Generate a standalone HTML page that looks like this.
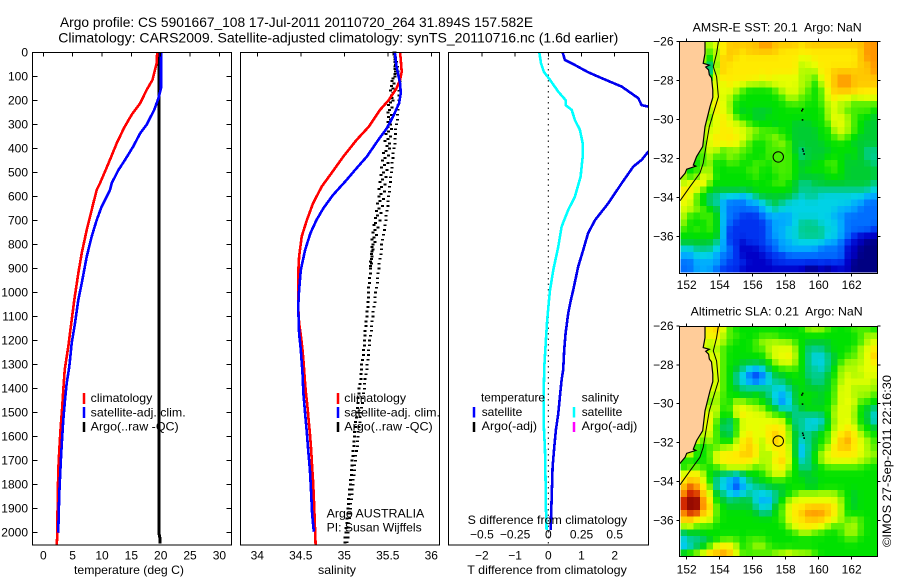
<!DOCTYPE html>
<html>
<head>
<meta charset="utf-8">
<title>Argo profile</title>
<style>
html,body{margin:0;padding:0;background:#fff;}
svg{display:block;font-family:"Liberation Sans",sans-serif;font-size:12px;fill:#000;}
text{fill:#000;}
</style>
</head>
<body>
<svg id="chart" xmlns="http://www.w3.org/2000/svg" width="900" height="580" viewBox="0 0 900 580">
<defs>
<clipPath id="clip-diff"><rect x="448.5" y="52.5" width="200" height="492.5"/></clipPath>
<clipPath id="clip-sst"><rect x="679.5" y="41.5" width="198" height="232"/></clipPath>
<clipPath id="clip-sla"><rect x="679.5" y="326.5" width="198" height="230"/></clipPath>
</defs>
<rect x="0" y="0" width="900" height="580" fill="#fff"/>
<text x="60" y="27" font-size="14" textLength="473" lengthAdjust="spacingAndGlyphs">Argo profile: CS 5901667_108 17-Jul-2011 20110720_264 31.894S 157.582E</text>
<text x="58.3" y="42.3" font-size="14" textLength="560" lengthAdjust="spacingAndGlyphs">Climatology: CARS2009. Satellite-adjusted climatology: synTS_20110716.nc (1.6d earlier)</text>
<g id="marks"></g>
<text x="74" y="574" textLength="110" lengthAdjust="spacingAndGlyphs">temperature (deg C)</text>
<text x="318" y="574" textLength="38" lengthAdjust="spacingAndGlyphs">salinity</text>
<text x="467.3" y="574" textLength="159.5" lengthAdjust="spacingAndGlyphs">T difference from climatology</text>
<text x="467.7" y="524" textLength="159.5" lengthAdjust="spacingAndGlyphs">S difference from climatology</text>

<g>
<line x1="84" y1="393" x2="84" y2="404" stroke="#f00" stroke-width="2.5"/>
<line x1="84" y1="407" x2="84" y2="418" stroke="#00f" stroke-width="2.5"/>
<line x1="84" y1="422" x2="84" y2="432" stroke="#000" stroke-width="2.5"/>
<text x="90.7" y="402" textLength="61.6" lengthAdjust="spacingAndGlyphs">climatology</text>
<text x="90.7" y="416.3" textLength="95" lengthAdjust="spacingAndGlyphs">satellite-adj. clim.</text>
<text x="90.7" y="430.7" textLength="88" lengthAdjust="spacingAndGlyphs">Argo(..raw -QC)</text>
</g>
<g>
<line x1="338" y1="393" x2="338" y2="404" stroke="#f00" stroke-width="2.5"/>
<line x1="338" y1="407" x2="338" y2="418" stroke="#00f" stroke-width="2.5"/>
<line x1="338" y1="422" x2="338" y2="432" stroke="#000" stroke-width="2.5"/>
<text x="344.3" y="402" textLength="61.7" lengthAdjust="spacingAndGlyphs">climatology</text>
<text x="344.3" y="416.3" textLength="95.7" lengthAdjust="spacingAndGlyphs">satellite-adj. clim.</text>
<text x="344.3" y="430.7" textLength="88.4" lengthAdjust="spacingAndGlyphs">Argo(..raw -QC)</text>
</g>
<text x="326.7" y="517.3" textLength="97.6" lengthAdjust="spacingAndGlyphs">Argo AUSTRALIA</text>
<text x="326.7" y="531.3" textLength="95" lengthAdjust="spacingAndGlyphs">PI: Susan Wijffels</text>

<g>
<text x="481" y="401.3" textLength="64" lengthAdjust="spacingAndGlyphs">temperature</text>
<line x1="474" y1="407" x2="474" y2="417.5" stroke="#00f" stroke-width="2.5"/>
<text x="481.7" y="416" textLength="40.6" lengthAdjust="spacingAndGlyphs">satellite</text>
<line x1="474" y1="422" x2="474" y2="432" stroke="#000" stroke-width="2.5"/>
<text x="481.7" y="430" textLength="55.3" lengthAdjust="spacingAndGlyphs">Argo(-adj)</text>
<text x="581.7" y="401.3" textLength="37.3" lengthAdjust="spacingAndGlyphs">salinity</text>
<line x1="574" y1="407" x2="574" y2="417.5" stroke="#0ff" stroke-width="2.5"/>
<text x="581.7" y="416" textLength="40.6" lengthAdjust="spacingAndGlyphs">satellite</text>
<line x1="574" y1="422" x2="574" y2="432" stroke="#f0f" stroke-width="2.5"/>
<text x="581.7" y="430" textLength="55.6" lengthAdjust="spacingAndGlyphs">Argo(-adj)</text>
</g>

<text x="692.7" y="31.7" textLength="169" lengthAdjust="spacingAndGlyphs">AMSR-E SST: 20.1&#160; Argo: NaN</text>
<text x="690.7" y="315.7" textLength="172" lengthAdjust="spacingAndGlyphs">Altimetric SLA: 0.21&#160; Argo: NaN</text>
<text x="891" y="547" transform="rotate(-90 891 547)" textLength="172" lengthAdjust="spacingAndGlyphs">©IMOS 27-Sep-2011 22:16:30</text>
</svg>

<script>
// ---- tick labels ----
const depthTicks = [0,100,200,300,400,500,600,700,800,900,1000,1100,1200,1300,1400,1500,1600,1700,1800,1900,2000];
const tempTicks = [0,5,10,15,20,25,30];
const salTicks = [34,34.5,35,35.5,36];
const tDiffTicks = [-2,-1,0,1,2];
const sDiffTicks = [-0.5,-0.25,0,0.25,0.5];
const lonTicks = [152,154,156,158,160,162];
const latTicks = [-26,-28,-30,-32,-34,-36];

// ---- temperature profiles ----
const climTDepth = [0,46,115,157,212,260,315,379,462,545,573,629,740,837,920,1031,1114,1225,1322,1406,1482,1558,1655,1738,1856,2002,2050];
const climT = [19.4,19.3,18.6,17.6,16.5,15.05,13.75,12.5,11.1,9.66,9.1,8.52,7.39,6.54,5.97,5.28,4.83,4.26,3.65,3.4,3.2,2.96,2.73,2.56,2.45,2.39,2.3];
const satTDepth = [0,150,192,240,302,337,393,449,490,545,573,642,698,767,851,962,1031,1128,1211,1309,1378,1447,1530,1614,1711,1836,1988,2000];
const satT = [20.05,20.05,19.6,18.9,17.6,16.5,15.3,13.9,12.8,11.65,11.36,9.95,9.1,8.24,7.39,6.54,5.97,5.4,4.83,4.43,3.99,3.7,3.41,3.19,2.96,2.73,2.56,2.5];
const argoTDepth = [0,100,200,300,400,500,600,800,1000,1200,1400,1600,1800,2000,2020,2045];
const argoT = [19.7,19.7,19.7,19.7,19.7,19.7,19.7,19.7,19.7,19.7,19.7,19.7,19.7,19.7,19.85,19.85];

// ---- salinity profiles ----
const climSDepth = [0,32,81,115,150,199,240,310,365,434,504,559,629,698,767,851,920,1059,1128,1177,1239,1281,1378,1420,1489,1531,1586,1656,1725,1781,1850,1947,2050];
const climS = [35.64,35.65,35.66,35.64,35.6,35.51,35.41,35.28,35.14,34.99,34.85,34.74,34.64,34.57,34.51,34.48,34.47,34.47,34.48,34.5,34.52,34.53,34.55,34.56,34.58,34.59,34.605,34.62,34.63,34.64,34.65,34.66,34.67];
const satSDepth = [0,59,128,170,212,268,316,365,434,483,538,594,649,698,753,823,906,990,1059,1170,1239,1336,1420,1503,1586,1656,1739,1822,1920,1996];
const satS = [35.58,35.6,35.64,35.65,35.63,35.56,35.49,35.39,35.26,35.14,35.01,34.87,34.76,34.68,34.61,34.55,34.5,34.48,34.47,34.48,34.5,34.52,34.53,34.55,34.57,34.585,34.605,34.617,34.63,34.65];
const argoRawDepth = [0,10,20,30,40,50,60,70,80,90,100,110,120,130,140,150,160,170,180,190,200,210,220,230,240,250,260,270,280,290,300,310,320,330,340,350,360,370,380,390,400,410,420,430,440,450,460,470,480,490,500,510,520,530,540,550,560,570,580,590,600,610,620,630,640,650,660,670,680,690,700,710,720,730,740,750,760,770,780,790,800,810,820,830,840,850,860,870,880,890,900,920,940,960,980,1000,1020,1040,1060,1080,1100,1120,1140,1160,1180,1200,1220,1240,1260,1280,1300,1320,1340,1360,1380,1400,1420,1440,1460,1480,1500,1520,1540,1560,1580,1600,1620,1640,1660,1680,1700,1720,1740,1760,1780,1800,1820,1840,1860,1880,1900,1920,1940,1960,1980,2000,2020,2040];
const argoRawS = [35.57,35.57,35.58,35.58,35.58,35.59,35.58,35.58,35.59,35.58,35.58,35.56,35.55,35.57,35.54,35.56,35.53,35.56,35.54,35.55,35.56,35.53,35.51,35.55,35.52,35.50,35.54,35.51,35.53,35.50,35.53,35.50,35.54,35.51,35.48,35.53,35.50,35.47,35.52,35.49,35.52,35.48,35.45,35.51,35.47,35.44,35.50,35.46,35.43,35.49,35.45,35.42,35.48,35.44,35.41,35.47,35.43,35.40,35.46,35.42,35.40,35.45,35.41,35.38,35.44,35.40,35.37,35.42,35.38,35.36,35.41,35.36,35.34,35.39,35.35,35.33,35.37,35.34,35.32,35.35,35.33,35.32,35.33,35.32,35.31,35.32,35.31,35.30,35.31,35.30,35.30,35.30,35.29,35.29,35.28,35.28,35.28,35.27,35.27,35.26,35.26,35.25,35.25,35.24,35.24,35.23,35.23,35.22,35.22,35.21,35.20,35.20,35.19,35.19,35.18,35.17,35.17,35.16,35.16,35.15,35.15,35.14,35.13,35.13,35.12,35.12,35.11,35.11,35.10,35.10,35.09,35.09,35.08,35.08,35.07,35.07,35.06,35.06,35.05,35.05,35.04,35.04,35.03,35.03,35.02,35.02,35.01,35.01];
const argoQcDepth = [0,20,40,60,80,100,120,140,160,180,200,220,240,260,280,300,320,340,360,380,400,420,440,460,480,500,520,540,560,580,600,620,640,660,680,700,720,740,760,780,800,820,840,860,880,900,920,940,960,980,1000,1020,1040,1060,1080,1100,1120,1140,1160,1180,1200,1220,1240,1260,1280,1300,1320,1340,1360,1380,1400,1420,1440,1460,1480,1500,1520,1540,1560,1580,1600,1620,1640,1660,1680,1700,1720,1740,1760,1780,1800,1820,1840,1860,1880,1900,1920,1940,1960,1980,2000,2020,2040];
const argoQcS = [35.58,35.59,35.60,35.61,35.62,35.63,35.64,35.64,35.63,35.63,35.63,35.62,35.62,35.61,35.61,35.60,35.59,35.59,35.58,35.58,35.57,35.56,35.56,35.55,35.55,35.54,35.53,35.53,35.52,35.52,35.51,35.50,35.50,35.49,35.48,35.48,35.47,35.46,35.45,35.44,35.43,35.43,35.42,35.41,35.40,35.40,35.39,35.38,35.38,35.37,35.36,35.35,35.35,35.34,35.33,35.33,35.32,35.31,35.31,35.30,35.29,35.29,35.28,35.28,35.27,35.26,35.26,35.25,35.24,35.23,35.23,35.22,35.21,35.21,35.20,35.19,35.18,35.18,35.17,35.16,35.16,35.15,35.15,35.14,35.13,35.13,35.12,35.12,35.11,35.10,35.10,35.09,35.09,35.08,35.07,35.07,35.06,35.06,35.05,35.05,35.04,35.04,35.03];

// ---- differences from climatology ----
const tDiffDepth = [0,32,53,83,108,143,191,220,226,280,350,414,448,476,545,628,698,753,823,892,990,1031,1087,1170,1239,1322,1364,1434,1503,1572,1642,1725,1864,1989];
const tDiff = [0.43,0.5,0.8,1.2,1.61,2.21,2.71,2.81,3.01,3.5,3.6,3.01,2.81,2.56,2.21,1.81,1.41,1.2,1.05,0.9,0.75,0.68,0.6,0.52,0.48,0.45,0.4,0.35,0.3,0.23,0.18,0.13,0.1,0.07];
const sDiffDepth = [0,46,81,115,164,199,220,240,282,323,379,434,518,601,656,726,809,906,990,1031,1114,1198,1309,1420,1545,1656,1795,1892,1989];
const sDiff = [-0.068,-0.055,-0.033,0.013,0.075,0.13,0.13,0.176,0.2,0.238,0.259,0.259,0.243,0.2,0.15,0.1,0.075,0.038,0.013,0.005,-0.008,-0.018,-0.03,-0.035,-0.035,-0.025,-0.02,-0.018,-0.013];

// ---- map grids (colour level 0 = coldest/lowest .. 16 = warmest/highest) ----
const sstGrid = [
[10,10,10,10,10,11,12,13,13,13,13,13,14,14,13,13,13,13,12,13,13,13,13,13,13,13,13,13,14,14],
[10,10,10,10,9,10,12,13,13,12,13,13,13,13,13,12,12,12,12,12,12,12,12,12,12,12,12,13,14,14],
[10,10,10,10,8,10,13,13,12,12,12,12,12,12,12,12,12,12,11,11,12,12,12,12,12,12,12,13,14,14],
[10,10,10,10,5,10,13,12,12,12,12,12,12,12,12,12,12,12,10,11,11,12,12,12,12,12,12,13,13,14],
[10,10,10,10,4,11,13,12,12,12,12,12,12,12,12,12,12,12,10,10,10,12,12,13,13,13,13,13,13,14],
[10,10,10,10,8,11,12,12,12,12,12,12,11,12,11,11,11,11,10,10,9,11,12,13,14,14,13,13,13,13],
[10,10,10,10,10,11,11,12,11,11,10,10,10,10,11,11,11,11,10,10,8,10,12,13,14,14,13,13,13,13],
[10,10,10,10,10,11,11,11,10,9,8,8,8,8,9,10,11,11,10,9,8,9,11,13,13,13,13,12,12,12],
[10,10,10,10,10,11,11,10,9,8,8,8,8,8,8,9,10,10,9,9,8,9,11,12,11,11,10,11,11,11],
[10,10,10,10,11,12,11,10,8,8,8,8,8,8,8,8,9,9,9,8,8,9,10,11,10,10,9,9,9,9],
[10,10,10,10,10,12,11,10,8,7,8,7,7,7,8,8,8,8,8,8,8,8,10,11,10,9,9,9,9,8],
[10,10,10,10,9,11,12,11,9,8,8,7,7,8,8,8,8,8,8,8,8,8,10,11,11,10,9,8,8,7],
[10,10,10,10,10,11,12,11,11,10,9,8,8,8,7,8,8,7,7,7,8,8,9,11,11,10,9,8,7,7],
[10,10,10,10,11,11,12,12,11,11,10,10,9,9,9,8,8,7,7,7,7,8,8,10,11,10,9,8,7,7],
[10,10,10,10,11,12,12,12,12,11,10,9,9,9,10,9,8,7,7,7,7,8,8,9,10,9,8,7,7,7],
[10,10,10,9,11,12,11,12,11,10,9,8,8,9,9,10,9,7,7,7,7,7,8,8,8,8,7,7,7,7],
[10,10,10,9,11,10,9,9,10,9,9,8,8,9,9,9,9,7,6,7,7,7,7,8,8,8,8,7,6,6],
[10,10,8,9,10,9,9,10,9,9,8,8,8,9,9,9,9,8,6,7,7,7,8,8,8,7,8,7,6,6],
[10,8,8,9,10,8,8,9,9,8,8,9,9,8,9,9,9,8,7,7,8,8,9,9,8,7,7,7,7,6],
[10,7,9,10,10,8,8,8,8,8,9,9,8,8,9,9,9,8,7,8,8,8,8,9,8,7,7,7,7,7],
[10,9,9,11,11,8,8,8,8,8,8,9,8,8,8,9,9,8,7,7,7,7,8,8,8,7,7,7,7,7],
[10,11,12,12,9,8,8,8,8,8,8,8,8,8,9,9,8,7,6,6,7,7,7,7,7,7,7,7,7,6],
[12,12,11,9,8,7,7,7,7,7,7,8,8,8,8,8,8,7,6,6,6,6,6,6,6,6,6,6,6,5],
[12,11,9,8,6,6,5,5,5,4,5,6,7,7,7,7,7,6,5,6,6,5,5,5,5,5,5,5,4,4],
[11,11,9,8,6,6,4,3,3,3,4,4,5,6,7,6,5,5,5,5,5,5,5,5,5,5,4,4,3,3],
[11,10,10,9,8,7,4,3,3,3,3,3,4,5,6,5,5,5,5,5,5,5,5,5,4,4,4,3,3,3],
[10,9,8,9,9,8,4,3,3,2,2,2,3,4,4,4,4,5,5,5,5,5,5,4,4,3,3,3,3,3],
[10,8,8,8,9,8,4,3,2,2,2,2,2,3,4,4,4,5,6,6,6,5,5,5,4,3,3,3,3,3],
[9,8,9,8,9,8,4,2,2,2,2,2,2,3,4,4,5,5,6,6,6,6,5,5,4,3,3,3,3,2],
[8,8,8,8,8,8,4,2,2,2,2,2,2,3,4,4,5,5,6,6,6,6,5,5,4,3,2,1,1,1],
[7,7,7,7,7,6,4,2,2,1,2,2,2,3,3,4,4,5,5,5,5,5,4,4,3,2,1,1,0,0],
[5,5,6,6,6,5,4,3,2,1,1,1,2,2,3,4,4,4,4,4,4,3,3,3,3,1,1,0,0,0],
[4,4,5,5,5,4,3,3,2,1,1,1,1,2,2,2,3,3,3,3,3,3,3,3,3,1,1,0,0,0],
[3,3,4,4,4,4,3,2,2,2,1,1,1,1,2,2,2,2,2,2,2,2,2,2,2,1,0,0,0,0],
[3,3,4,4,4,3,2,2,2,1,1,1,1,1,1,1,1,1,1,0,0,1,0,1,1,1,0,0,0,0]
];
const slaGrid = [
[11,11,11,11,12,13,11,9,8,8,8,8,8,8,8,8,8,8,8,10,10,10,9,8,8,8,9,9,9,8],
[11,11,11,11,12,12,10,9,9,8,8,8,9,9,9,8,8,8,8,8,8,8,8,8,8,8,8,9,10,10],
[11,11,11,11,10,11,10,9,8,8,8,9,10,10,10,10,10,9,8,7,7,7,7,8,8,8,8,9,10,11],
[11,11,11,11,10,10,9,8,8,8,8,9,9,10,11,11,11,10,8,6,6,6,7,8,8,8,9,10,11,12],
[11,11,11,11,11,11,9,8,8,8,8,8,8,10,11,11,12,10,8,6,5,5,6,7,8,9,9,10,11,13],
[11,11,11,11,11,11,9,8,8,7,7,7,7,8,10,11,11,10,8,6,5,5,6,7,9,10,10,10,11,12],
[11,11,11,11,11,11,9,8,7,6,5,4,5,7,8,9,9,9,8,6,6,5,6,8,10,10,10,11,11,11],
[11,11,11,11,11,11,9,8,6,5,3,2,3,5,7,7,8,8,8,6,6,6,7,8,10,11,10,10,11,11],
[11,11,11,11,11,11,9,8,6,5,4,3,4,5,6,6,7,8,8,7,6,6,7,9,10,11,11,11,11,10],
[11,11,11,11,11,11,9,8,7,6,6,6,6,6,5,5,6,7,8,7,7,7,7,9,11,11,10,10,10,10],
[11,11,11,11,10,10,9,8,8,7,7,8,7,6,5,4,5,7,8,8,8,7,8,9,11,11,10,10,10,9],
[11,11,11,11,9,10,9,8,10,10,9,9,8,7,5,3,5,7,8,8,7,7,8,9,11,11,11,9,9,8],
[11,11,11,11,10,11,8,9,11,11,11,10,10,8,7,5,5,6,7,8,8,8,8,10,11,11,10,8,7,6],
[11,11,11,11,11,10,8,8,11,12,11,11,11,10,9,9,7,6,6,6,6,6,8,10,11,11,10,8,7,5],
[11,11,11,11,12,9,7,6,8,11,11,11,11,11,11,11,8,6,6,5,5,5,7,10,11,11,10,8,7,5],
[11,11,11,11,11,9,6,6,9,11,11,11,11,12,12,12,10,6,6,5,5,6,8,10,11,12,11,9,8,7],
[11,11,11,10,11,9,7,6,9,11,12,11,11,12,13,12,10,7,6,6,7,8,9,11,12,13,12,10,9,8],
[11,11,11,9,10,9,8,8,10,12,13,11,10,12,13,12,10,7,5,6,7,8,9,11,13,14,12,11,10,9],
[11,11,8,8,9,9,10,10,11,12,13,12,10,11,12,12,11,7,4,6,7,9,10,12,13,13,12,11,10,9],
[11,11,8,8,9,11,12,12,12,13,13,12,10,10,11,12,11,7,4,6,8,10,11,12,12,12,12,11,10,10],
[8,8,8,8,9,11,12,12,12,12,12,11,10,10,12,13,11,8,5,6,8,10,11,11,11,11,11,10,10,9],
[8,9,9,9,8,9,10,11,11,11,10,9,10,10,11,12,10,8,6,6,7,8,9,9,9,9,9,9,8,8],
[11,12,12,10,8,7,6,6,5,6,8,8,8,10,11,11,9,8,7,7,8,8,8,8,8,8,8,8,8,8],
[12,13,13,11,8,6,5,4,3,5,6,7,8,8,9,9,8,8,8,7,7,8,8,8,8,8,8,8,8,8],
[13,15,14,12,10,5,5,4,2,4,5,6,6,7,7,7,8,8,8,7,7,8,8,8,8,8,8,8,8,8],
[14,15,15,13,11,7,6,5,4,5,6,5,5,5,6,7,8,9,10,10,10,10,10,10,9,8,7,8,8,8],
[15,16,16,14,12,8,7,6,7,7,7,5,4,4,6,8,10,11,11,11,11,11,11,11,10,8,7,8,8,8],
[15,16,16,14,13,9,8,7,7,7,7,6,5,5,7,9,11,12,12,13,13,13,13,12,10,8,7,8,8,8],
[14,15,15,13,12,9,8,8,8,8,8,7,6,6,8,9,11,12,13,14,14,14,13,12,10,8,8,8,8,8],
[13,13,12,11,11,9,8,8,8,8,8,8,8,8,8,9,11,12,12,13,13,13,12,11,10,9,10,9,8,8],
[10,11,9,9,9,8,8,8,8,8,8,8,8,8,8,8,10,11,12,12,12,11,10,9,9,10,10,9,8,8],
[6,7,7,8,8,8,8,8,8,8,8,8,8,8,8,8,8,9,10,10,9,9,8,8,9,10,10,9,8,8],
[5,6,6,6,7,8,9,9,9,8,9,9,9,8,8,8,8,8,8,8,8,8,8,8,8,9,9,8,8,8],
[4,5,6,7,9,11,12,12,10,8,9,10,10,9,8,8,8,8,8,8,8,8,8,8,8,8,8,8,8,8],
[8,9,10,11,13,13,14,13,11,9,9,9,9,9,10,10,11,10,10,10,9,8,8,8,8,8,8,8,8,8]
];
const rampColors = [[0,0,130],[0,0,200],[0,50,240],[0,110,255],[0,170,255],[0,210,230],[0,205,140],[0,205,50],[0,225,0],[70,238,0],[170,250,0],[230,255,0],[255,235,0],[255,200,0],[255,150,0],[210,40,0],[130,0,0]];

// ---- geography ----
const coastLon = [153.11,153.11,153.0,153.37,153.15,153.33,153.37,153.5,153.58,153.58,153.41,153.11,152.97,152.6,152.4,152.55,152.0,151.9,151.64,151.55];
const coastLat = [-26,-26.6,-27.11,-27.2,-27.3,-27.45,-27.7,-27.85,-28.48,-28.86,-29.34,-30.37,-31.39,-31.9,-32.34,-32.4,-32.55,-32.76,-33.02,-33.1];
const isoLon = [153.92,153.81,153.61,153.81,153.92,153.61,153.37,153.2,153.0,152.8,152.2,151.6];
const isoLat = [-26,-26.6,-27.28,-27.8,-28.83,-29.68,-30.37,-31.22,-32.25,-32.76,-33.45,-34.17];
const islandLon = [158.98,159.03,159.02,159.03,159.07,159.12];
const islandLat = [-29.55,-29.47,-30.02,-31.52,-31.62,-31.77];
const floatLon = 157.55;
const floatLat = -31.92;

// ---- scales ----
const yDepth = d => 52.3 + d * 0.2402;
const xTemp = t => 43.3 + t * 5.87;
const xSal = s => 257.3 + (s - 34) * 87;
const xTDiff = v => 548.3 + v * 33.2;
const xSDiff = v => 548.3 + v * 132.8;
const xLon = lon => 686.7 + (lon - 152) * 16.5;
const ySstLat = lat => 41.7 + (-26 - lat) * 19.46;
const ySlaLat = lat => 326 + (-26 - lat) * 19.43;
function colorFor(v) {
  const t = Math.max(0, Math.min(16, v));
  const i = Math.min(15, Math.floor(t));
  const f = t - i;
  const a = rampColors[i], b = rampColors[i + 1];
  return 'rgb(' + [0,1,2].map(k => Math.round(a[k] + (b[k] - a[k]) * f)).join(',') + ')';
}
// shaded cell level: the cell's own value softened with its four neighbours
function shadedLevel(grid, r, col) {
  let sum = grid[r][col] * 4, n = 4;
  [[-1,0],[1,0],[0,-1],[0,1]].forEach(function (o) {
    const row = grid[r + o[0]];
    if (row && row[col + o[1]] !== undefined) { sum += row[col + o[1]]; n += 1; }
  });
  return sum / n;
}

const NS = 'http://www.w3.org/2000/svg';
const root = document.getElementById('marks');
function mk(tag, parent, attrs) {
  const e = document.createElementNS(NS, tag);
  for (const k in attrs) e.setAttribute(k, attrs[k]);
  (parent || root).appendChild(e);
  return e;
}
function fmt(v) { return String(v).replace('-', '\u2212'); }
function pts(xs, ys) { return xs.map((x, i) => x.toFixed(1) + ',' + ys[i].toFixed(1)).join(' '); }

// ---- profile panels ----
const frames = [[32.5,231.5],[240.5,439.5],[448.5,648.5]];

function curve(xs, ys, color, width, clip) {
  const el = mk('polyline', root, {points:pts(xs, ys), fill:'none', stroke:color, 'stroke-width':width, 'shape-rendering':'crispEdges', 'stroke-linejoin':'round'});
  if (clip) el.setAttribute('clip-path', 'url(#' + clip + ')');
  return el;
}
function dashes(xs, ys, name, tall) {
  xs.forEach(function (x, i) {
    const el = mk('rect', root, {x:(x-1.5).toFixed(1), y:(ys[i]-tall/2).toFixed(1), width:3, height:tall, fill:'#000', 'shape-rendering':'crispEdges'});
    
    
  });
}

let c;
c = curve(argoT.map(xTemp), argoTDepth.map(yDepth), '#000', 3);


c = curve(climT.map(xTemp), climTDepth.map(yDepth), '#f00', 2.6);


c = curve(satT.map(xTemp), satTDepth.map(yDepth), '#00f', 2.6);



dashes(argoRawS.map(xSal), argoRawDepth.map(yDepth), 'argo-raw-salinity-point', 2);
dashes(argoQcS.map(xSal), argoQcDepth.map(yDepth), 'argo-qc-salinity-point', 1.6);
c = curve(climS.map(xSal), climSDepth.map(yDepth), '#f00', 2.6);


c = curve(satS.map(xSal), satSDepth.map(yDepth), '#00f', 2.6);



const zeroLine = mk('line', root, {x1:xTDiff(0), y1:52.5, x2:xTDiff(0), y2:545, stroke:'#000', 'stroke-width':1, 'stroke-dasharray':'1.5 4'});


c = curve(sDiff.map(xSDiff), sDiffDepth.map(yDepth), '#0ff', 2.6, 'clip-diff');


c = curve(tDiff.map(xTDiff), tDiffDepth.map(yDepth), '#0000ee', 2.6, 'clip-diff');



frames.forEach(function (f) {
  const el = mk('rect', root, {x:f[0], y:52.5, width:f[1]-f[0], height:492.5, fill:'none', stroke:'#000', 'stroke-width':1, 'shape-rendering':'crispEdges'});
  
  
});

// depth ticks
depthTicks.forEach(function (d) {
  const y = yDepth(d);
  const a = mk('line', root, {x1:32.5, y1:y, x2:37.5, y2:y, stroke:'#000', 'shape-rendering':'crispEdges'});
  
  
  const b = mk('line', root, {x1:226.5, y1:y, x2:231.5, y2:y, stroke:'#000', 'shape-rendering':'crispEdges'});
  
  
  const t = mk('text', root, {x:28, y:y+4, 'text-anchor':'end'});
  t.textContent = fmt(d);
  
  
});

function xTicks(list, scale, name, baseline, topTick) {
  list.forEach(function (v) {
    const x = scale(v);
    if (topTick) {
      const tk = mk('line', root, {x1:x, y1:52.5, x2:x, y2:56.5, stroke:'#000', 'shape-rendering':'crispEdges'});
      
      
    }
    const t = mk('text', root, {x:x, y:baseline, 'text-anchor':'middle'});
    t.textContent = fmt(v);
    
    
  });
}
xTicks(tempTicks, xTemp, 'temperature', 559.3, true);
xTicks(salTicks, xSal, 'salinity', 559.3, true);
xTicks(tDiffTicks, xTDiff, 't-difference', 559.3, true);
xTicks(sDiffTicks, xSDiff, 's-difference', 538.3, false);

// ---- maps ----
function drawMap(grid, yLat, clipId, name, frameY, frameH, labelBase) {
  const dLon = 0.3972, dLat = 0.338, lon0 = 151.62;
  grid.forEach(function (row, r) {
    row.forEach(function (v, col) {
      const x0 = xLon(lon0 + col * dLon), x1 = xLon(lon0 + (col + 1) * dLon);
      const y0 = yLat(-26 - r * dLat), y1 = yLat(-26 - (r + 1) * dLat);
      const cell = mk('rect', root, {x:x0.toFixed(2), y:y0.toFixed(2), width:(x1-x0+0.4).toFixed(2), height:(y1-y0+0.4).toFixed(2), fill:colorFor(shadedLevel(grid, r, col)), 'shape-rendering':'crispEdges'});
      
      
    });
  });
  const lx = coastLon.map(xLon).concat([679.5, 679.5]);
  const ly = coastLat.map(yLat).concat([yLat(-33.1), frameY]);
  const land = mk('polygon', root, {points:pts(lx, ly), fill:'#ffcc99', stroke:'none', 'clip-path':'url(#' + clipId + ')'});
  
  
  const coast = mk('polyline', root, {points:pts(coastLon.map(xLon), coastLat.map(yLat)), fill:'none', stroke:'#000', 'stroke-width':1.2, 'clip-path':'url(#' + clipId + ')'});
  
  
  const iso = mk('polyline', root, {points:pts(isoLon.map(xLon), isoLat.map(yLat)), fill:'none', stroke:'#000', 'stroke-width':1, 'clip-path':'url(#' + clipId + ')'});
  
  
  islandLon.forEach(function (lon, i) {
    const isl = mk('rect', root, {x:xLon(lon)-0.8, y:yLat(islandLat[i])-0.8, width:1.6, height:1.6, fill:'#000'});
    
    
  });
  const ring = mk('circle', root, {cx:xLon(floatLon), cy:yLat(floatLat), r:5.2, fill:'none', stroke:'#000', 'stroke-width':1});
  
  
  const frame = mk('rect', root, {x:679.5, y:frameY, width:198, height:frameH, fill:'none', stroke:'#000', 'shape-rendering':'crispEdges'});
  
  
  lonTicks.forEach(function (lon) {
    const x = xLon(lon);
    const t1 = mk('line', root, {x1:x, y1:frameY-3, x2:x, y2:frameY, stroke:'#000', 'shape-rendering':'crispEdges'});
    
    
    const t2 = mk('line', root, {x1:x, y1:frameY+frameH, x2:x, y2:frameY+frameH+3, stroke:'#000', 'shape-rendering':'crispEdges'});
    
    
    const lb = mk('text', root, {x:x, y:labelBase, 'text-anchor':'middle'});
    lb.textContent = fmt(lon);
    
    
  });
  latTicks.forEach(function (lat) {
    const y = yLat(lat);
    const t1 = mk('line', root, {x1:676.5, y1:y, x2:679.5, y2:y, stroke:'#000', 'shape-rendering':'crispEdges'});
    
    
    const t2 = mk('line', root, {x1:877.5, y1:y, x2:880.5, y2:y, stroke:'#000', 'shape-rendering':'crispEdges'});
    
    
    const lb = mk('text', root, {x:673.5, y:y+4, 'text-anchor':'end'});
    lb.textContent = fmt(lat);
    
    
  });
}
drawMap(sstGrid, ySstLat, 'clip-sst', 'sst-map', 41.5, 232, 289);
drawMap(slaGrid, ySlaLat, 'clip-sla', 'sla-map', 326.5, 230, 573.3);
</script>
</body>
</html>
